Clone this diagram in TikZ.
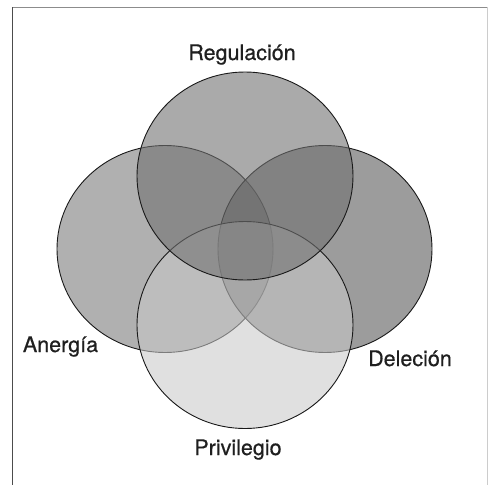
\documentclass[tikz,border=0pt]{standalone}
\usepackage{fontspec}
\setmainfont{TeX Gyre Heros}
\newfontfamily\lblfont[FakeBold=0.6]{TeX Gyre Heros}
\begin{document}
\begin{tikzpicture}[x=1pt,y=-1pt,
  lbl/.style={anchor=base,inner sep=0pt,font=\lblfont\fontsize{21.5}{24}\selectfont,text=black!88},
  venn/.style={draw=black!90,line width=0.9pt,fill opacity=0.6}]
\useasboundingbox (0,0) rectangle (488,485);
% frame
\draw[black!45,line width=0.8pt] (12,7) -- (488,7);
\draw[black!70,line width=0.9pt] (12,7) -- (12,485);
\draw[black!20,line width=0.8pt] (487,7) -- (487,485);
% circles
\definecolor{cleft}{gray}{0.482}
\definecolor{cright}{gray}{0.353}
\definecolor{ctop}{gray}{0.443}
\definecolor{cbot}{gray}{0.784}
\draw[venn,fill=cleft] (165,249) ellipse [x radius=108pt,y radius=103.5pt];
\draw[venn,fill=cright] (325,249) ellipse [x radius=107pt,y radius=103.5pt];
\draw[venn,fill=cbot,fill opacity=0.57] (245,325) ellipse [x radius=108pt,y radius=103.5pt];
\draw[venn,fill=ctop] (245,176) ellipse [x radius=108pt,y radius=104pt];
% labels
\node[lbl] (reg) at (242,60) {Regulación};
\node[lbl] (ane) at (60.5,352) {Anergía};
\node[lbl] (del) at (410,366) {Deleción};
\node[lbl] (pri) at (238,455) {Privilegio};
\end{tikzpicture}
\end{document}
